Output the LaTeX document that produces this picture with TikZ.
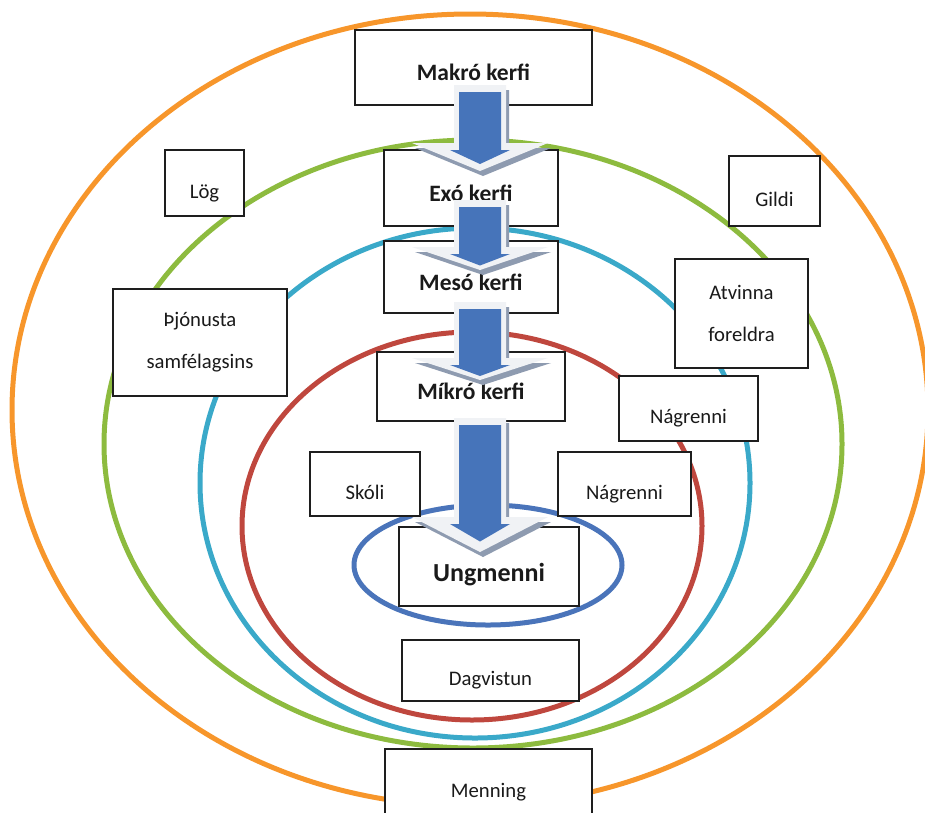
\documentclass[tikz,border=0pt]{standalone}
\usepackage{fontspec}
\setmainfont{Carlito}
\usepackage{xcolor}
\definecolor{macroring}{HTML}{F7962B}
\definecolor{exoring}{HTML}{8DBB3F}
\definecolor{mesoring}{HTML}{3AA9C9}
\definecolor{microring}{HTML}{BF473E}
\definecolor{youthring}{HTML}{4A74BA}
\definecolor{arrowface}{HTML}{4674BA}
\definecolor{arrowedge}{HTML}{F0F2F5}
\definecolor{arrowshadow}{HTML}{8E9BB0}
\definecolor{boxline}{HTML}{1E1E1E}
\definecolor{labeltext}{HTML}{1A1A1A}
\tikzset{
    ring/.style={line width=5pt},
    box/.style={draw=boxline, line width=1.8pt, fill=white, text=labeltext, inner sep=0pt,
        font=\fontsize{20.7}{42}\selectfont, text height=30pt, text depth=0pt},
    kerfi/.style={box, font=\fontsize{23.5}{28}\selectfont\bfseries, text height=26pt},
    core/.style={box, font=\fontsize{26}{30}\selectfont\bfseries, text height=30pt},
    twoline/.style={box, align=center, text height=, text depth=},
    pics/kerfiarrow/.style 2 args={code={
        \fill[arrowshadow] (-23,5) -- (29,5) -- (29,#1+5) -- (71,#1+5) -- (3,#1+#2+5) -- (-65,#1+5) -- (-23,#1+5) -- cycle;
        \fill[arrowedge] (-26,0) -- (26,0) -- (26,#1) -- (68,#1) -- (0,#1+#2) -- (-68,#1) -- (-26,#1) -- cycle;
        \fill[arrowface] (-21,7) -- (21,7) -- (21,#1+7) -- (30,#1+7) -- (0,#1+7+0.5*#2) -- (-30,#1+7) -- (-21,#1+7) -- cycle;
    }}
}
\begin{document}
\begin{tikzpicture}[x=1pt,y=-1pt]
    \useasboundingbox (0,0) rectangle (925,812);

    \draw[ring, macroring] (470,410) ellipse [x radius=458, y radius=396];
    \draw[ring, exoring] (473,444) ellipse [x radius=369, y radius=304];
    \draw[ring, mesoring] (475,483) ellipse [x radius=275, y radius=255];
    \draw[ring, microring] (472,526) ellipse [x radius=230, y radius=194];
    \draw[ring, youthring] (488,565) ellipse [x radius=134, y radius=60];

    \node[kerfi, minimum width=237pt, minimum height=75pt] (makro) at (473.5,67.5) {Makró kerfi};
    \node[kerfi, minimum width=174pt, minimum height=76pt] (exo) at (471,188) {Exó kerfi};
    \node[kerfi, minimum width=174pt, minimum height=72pt] (meso) at (471,277) {Mesó kerfi};
    \node[kerfi, minimum width=188pt, minimum height=69pt] (mikro) at (471,386.5) {Míkró kerfi};
    \node[core, minimum width=180pt, minimum height=79pt] (ungmenni) at (489,566.5) {Ungmenni};

    \node[box, minimum width=79pt, minimum height=66pt] (log) at (204.5,183) {Lög};
    \node[box, minimum width=91pt, minimum height=70pt] (gildi) at (774.5,191) {Gildi};
    \node[twoline, minimum width=174pt, minimum height=107pt] (thjonusta) at (200,342.5) {Þjónusta\\samfélagsins};
    \node[twoline, minimum width=133pt, minimum height=109pt] (atvinna) at (741.5,313.5) {Atvinna\\foreldra};
    \node[box, minimum width=139pt, minimum height=65pt] (nagrenni1) at (688.5,408.5) {Nágrenni};
    \node[box, minimum width=110pt, minimum height=64pt] (skoli) at (365,484) {Skóli};
    \node[box, minimum width=133pt, minimum height=64pt] (nagrenni2) at (624.5,484) {Nágrenni};
    \node[box, minimum width=177pt, minimum height=61pt] (dagvistun) at (490.5,670.5) {Dagvistun};
    \node[box, minimum width=207pt, minimum height=66pt] (menning) at (488.5,782) {Menning};

    \pic at (480,85) {kerfiarrow={58}{28}};
    \pic at (480,200) {kerfiarrow={47}{23}};
    \pic at (480,302) {kerfiarrow={56}{22}};
    \pic at (480,418) {kerfiarrow={99}{35}};
\end{tikzpicture}
\end{document}
